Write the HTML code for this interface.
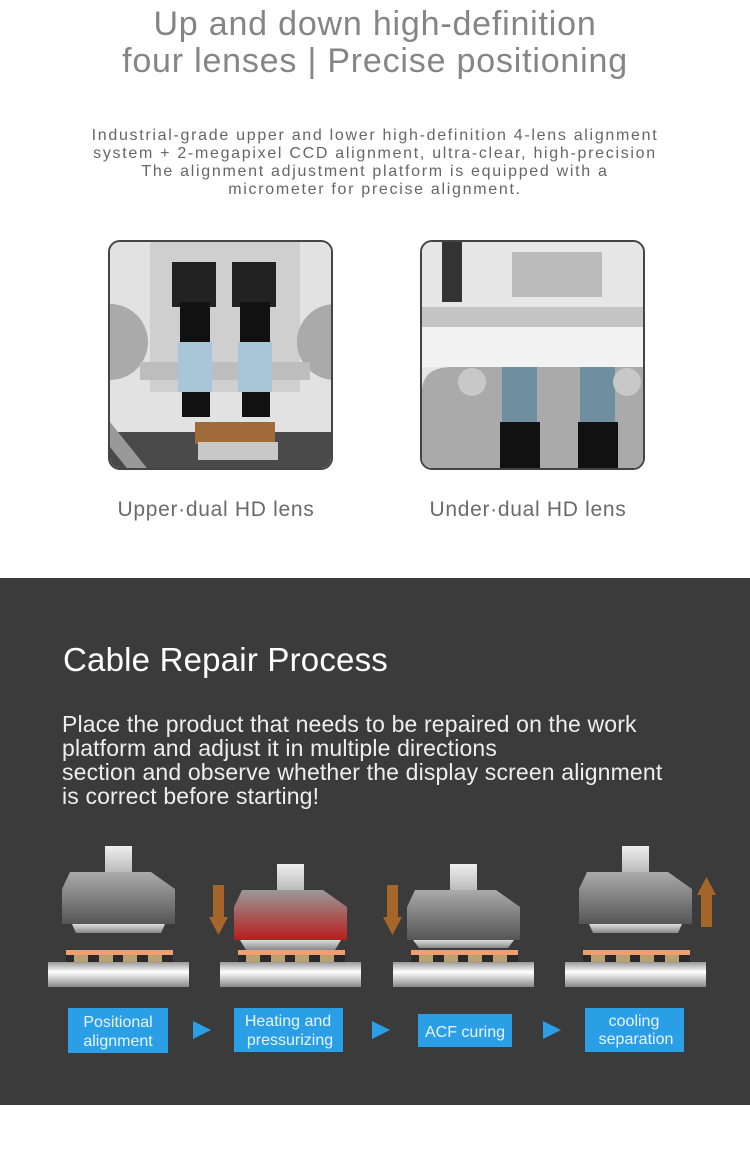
<!DOCTYPE html>
<html><head><meta charset="utf-8"><style>
*{margin:0;padding:0;box-sizing:border-box}
body{width:750px;height:1165px;background:#fff;font-family:"Liberation Sans",sans-serif;position:relative;overflow:hidden}
.t{position:absolute;left:0;width:750px;text-align:center;color:#858585;font-size:34px;line-height:37px;top:6px;letter-spacing:0.8px}
.p{position:absolute;left:0;width:750px;text-align:center;color:#666;font-size:16px;line-height:18px;top:127px;letter-spacing:1.7px}
.img{position:absolute;top:240px;width:225px;height:230px;border:2px solid #444;border-radius:12px;overflow:hidden;background:#d8d8d8}
.cap{position:absolute;top:498px;font-size:21px;color:#6a6a6a;width:240px;text-align:center;letter-spacing:0.7px}
.dark{position:absolute;left:0;top:578px;width:750px;height:527px;background:#3b3b3b}
.h{position:absolute;left:63px;top:641px;color:#fff;font-size:33px;letter-spacing:0.2px}
.d{position:absolute;left:62px;top:712px;color:#eee;font-size:23px;line-height:24px;letter-spacing:0.15px}
</style></head><body>
<div class="t">Up and down high-definition<br>four lenses | Precise positioning</div>
<div class="p">Industrial-grade upper and lower high-definition 4-lens alignment<br>system + 2-megapixel CCD alignment, ultra-clear, high-precision<br>The alignment adjustment platform is equipped with a<br>micrometer for precise alignment.</div>

<div class="img" style="left:108px">
<svg width="225" height="230">
<rect width="225" height="230" fill="#e2e2e2"/>
<rect x="40" y="0" width="150" height="150" fill="#cfcfcf"/>
<rect x="0" y="190" width="225" height="40" fill="#4a4a4a"/>
<circle cx="0" cy="100" r="38" fill="#aaa"/><circle cx="225" cy="100" r="38" fill="#aaa"/>
<rect x="30" y="120" width="170" height="18" fill="#bdbdbd"/>
<rect x="62" y="20" width="44" height="45" fill="#222"/><rect x="122" y="20" width="44" height="45" fill="#222"/>
<rect x="70" y="60" width="30" height="40" fill="#111"/><rect x="130" y="60" width="30" height="40" fill="#111"/>
<rect x="68" y="100" width="34" height="50" fill="#a9c6d8"/><rect x="128" y="100" width="34" height="50" fill="#a9c6d8"/>
<rect x="72" y="150" width="28" height="25" fill="#111"/><rect x="132" y="150" width="28" height="25" fill="#111"/>
<rect x="85" y="180" width="80" height="22" fill="#a06a3a"/>
<rect x="88" y="200" width="80" height="18" fill="#c8c8c8"/>
<polygon points="0,180 40,230 20,230 0,205" fill="#999"/>
</svg></div>
<div class="img" style="left:420px">
<svg width="225" height="230">
<rect width="225" height="230" fill="#e6e6e6"/>
<rect x="20" y="0" width="20" height="60" fill="#333"/>
<rect x="90" y="10" width="90" height="45" fill="#bbb"/>
<rect x="0" y="65" width="225" height="20" fill="#c4c4c4"/>
<rect x="0" y="85" width="225" height="40" fill="#f2f2f2"/>
<path d="M0,230 V150 Q0,125 30,125 H225 V230Z" fill="#aaa"/>
<rect x="80" y="125" width="35" height="60" fill="#6f8ea0"/><rect x="158" y="125" width="35" height="60" fill="#6f8ea0"/>
<rect x="78" y="180" width="40" height="50" fill="#111"/><rect x="156" y="180" width="40" height="50" fill="#111"/>
<circle cx="50" cy="140" r="14" fill="#c8c8c8"/><circle cx="205" cy="140" r="14" fill="#c8c8c8"/>
</svg></div>
<div class="cap" style="left:96px">Upper·dual HD lens</div>
<div class="cap" style="left:408px">Under·dual HD lens</div>

<div class="dark">
<svg width="750" height="527" style="position:absolute;left:0;top:0">
<defs>
<linearGradient id="g" x1="0" y1="0" x2="0" y2="1"><stop offset="0" stop-color="#aaa"/><stop offset="1" stop-color="#555"/></linearGradient>
<linearGradient id="r" x1="0" y1="0" x2="0" y2="1"><stop offset="0" stop-color="#999"/><stop offset="1" stop-color="#b81c1c"/></linearGradient>
<linearGradient id="s" x1="0" y1="0" x2="0" y2="1"><stop offset="0" stop-color="#eee"/><stop offset="1" stop-color="#bbb"/></linearGradient>
<linearGradient id="b" x1="0" y1="0" x2="0" y2="1"><stop offset="0" stop-color="#999"/><stop offset="0.4" stop-color="#fff"/><stop offset="1" stop-color="#888"/></linearGradient>
<linearGradient id="l" x1="0" y1="0" x2="0" y2="1"><stop offset="0" stop-color="#ddd"/><stop offset="1" stop-color="#888"/></linearGradient>
</defs>
<g transform="translate(48,0)">
<rect x="57" y="268" width="27" height="26" fill="url(#s)"/>
<polygon points="22,294 103,294 127,311 127,346 14,346 14,311" fill="url(#g)"/>
<polygon points="24,346 117,346 113,355 28,355" fill="url(#l)"/>
<rect x="18" y="372" width="107" height="5" fill="#f0a070"/>
<rect x="18" y="377" width="107" height="7" fill="#2a2a2a"/>
<rect x="26" y="377" width="14" height="7" fill="#b9a172"/><rect x="51" y="377" width="14" height="7" fill="#b9a172"/><rect x="75" y="377" width="14" height="7" fill="#b9a172"/><rect x="100" y="377" width="14" height="7" fill="#b9a172"/>
<rect x="0" y="384" width="141" height="25" fill="url(#b)"/>
</g>
<g transform="translate(220,0)">
<rect x="57" y="286" width="27" height="26" fill="url(#s)"/>
<polygon points="22,312 103,312 127,329 127,362 14,362 14,329" fill="url(#r)"/>
<polygon points="20,362 121,362 115,372 26,372" fill="url(#l)"/>
<rect x="18" y="372" width="107" height="5" fill="#f0a070"/>
<rect x="18" y="377" width="107" height="7" fill="#2a2a2a"/>
<rect x="26" y="377" width="14" height="7" fill="#b9a172"/><rect x="51" y="377" width="14" height="7" fill="#b9a172"/><rect x="75" y="377" width="14" height="7" fill="#b9a172"/><rect x="100" y="377" width="14" height="7" fill="#b9a172"/>
<rect x="0" y="384" width="141" height="25" fill="url(#b)"/>
</g>
<g transform="translate(393,0)">
<rect x="57" y="286" width="27" height="26" fill="url(#s)"/>
<polygon points="22,312 103,312 127,329 127,362 14,362 14,329" fill="url(#g)"/>
<polygon points="20,362 121,362 115,370 26,370" fill="url(#l)"/>
<rect x="18" y="372" width="107" height="5" fill="#f0a070"/>
<rect x="18" y="377" width="107" height="7" fill="#2a2a2a"/>
<rect x="26" y="377" width="14" height="7" fill="#b9a172"/><rect x="51" y="377" width="14" height="7" fill="#b9a172"/><rect x="75" y="377" width="14" height="7" fill="#b9a172"/><rect x="100" y="377" width="14" height="7" fill="#b9a172"/>
<rect x="0" y="384" width="141" height="25" fill="url(#b)"/>
</g>
<g transform="translate(565,0)">
<rect x="57" y="268" width="27" height="26" fill="url(#s)"/>
<polygon points="22,294 103,294 127,311 127,346 14,346 14,311" fill="url(#g)"/>
<polygon points="24,346 117,346 113,355 28,355" fill="url(#l)"/>
<rect x="18" y="372" width="107" height="5" fill="#f0a070"/>
<rect x="18" y="377" width="107" height="7" fill="#2a2a2a"/>
<rect x="26" y="377" width="14" height="7" fill="#b9a172"/><rect x="51" y="377" width="14" height="7" fill="#b9a172"/><rect x="75" y="377" width="14" height="7" fill="#b9a172"/><rect x="100" y="377" width="14" height="7" fill="#b9a172"/>
<rect x="0" y="384" width="141" height="25" fill="url(#b)"/>
</g>
<path d="M213,307 h11 v32 h4 l-9.5,18 l-9.5,-18 h4z" fill="#a5662a"/>
<path d="M387,307 h11 v32 h4 l-9.5,18 l-9.5,-18 h4z" fill="#a5662a"/>
<path d="M701,349 h11 v-32 h4 l-9.5,-18 l-9.5,18 h4z" fill="#a5662a"/>
<rect x="68" y="430" width="100" height="45" fill="#2b9fe6"/>
<rect x="234" y="430" width="109" height="44" fill="#2b9fe6"/>
<rect x="418" y="436" width="94" height="33" fill="#2b9fe6"/>
<rect x="585" y="430" width="99" height="44" fill="#2b9fe6"/>
<polygon points="193,443 211,452 193,461" fill="#2b9fe6"/>
<polygon points="372,443 390,452 372,461" fill="#2b9fe6"/>
<polygon points="543,443 561,452 543,461" fill="#2b9fe6"/>
<g fill="#e8f4ff" font-family="Liberation Sans,sans-serif" font-size="16" text-anchor="middle">
<text x="118" y="449">Positional</text><text x="118" y="468">alignment</text>
<text x="288" y="448">Heating and</text><text x="290" y="467">pressurizing</text>
<text x="465" y="459">ACF curing</text>
<text x="634" y="448">cooling</text><text x="636" y="466">separation</text>
</g>
</svg>
</div>
<div class="h">Cable Repair Process</div>
<div class="d">Place the product that needs to be repaired on the work<br>platform and adjust it in multiple directions<br>section and observe whether the display screen alignment<br>is correct before starting!</div>
</body></html>
